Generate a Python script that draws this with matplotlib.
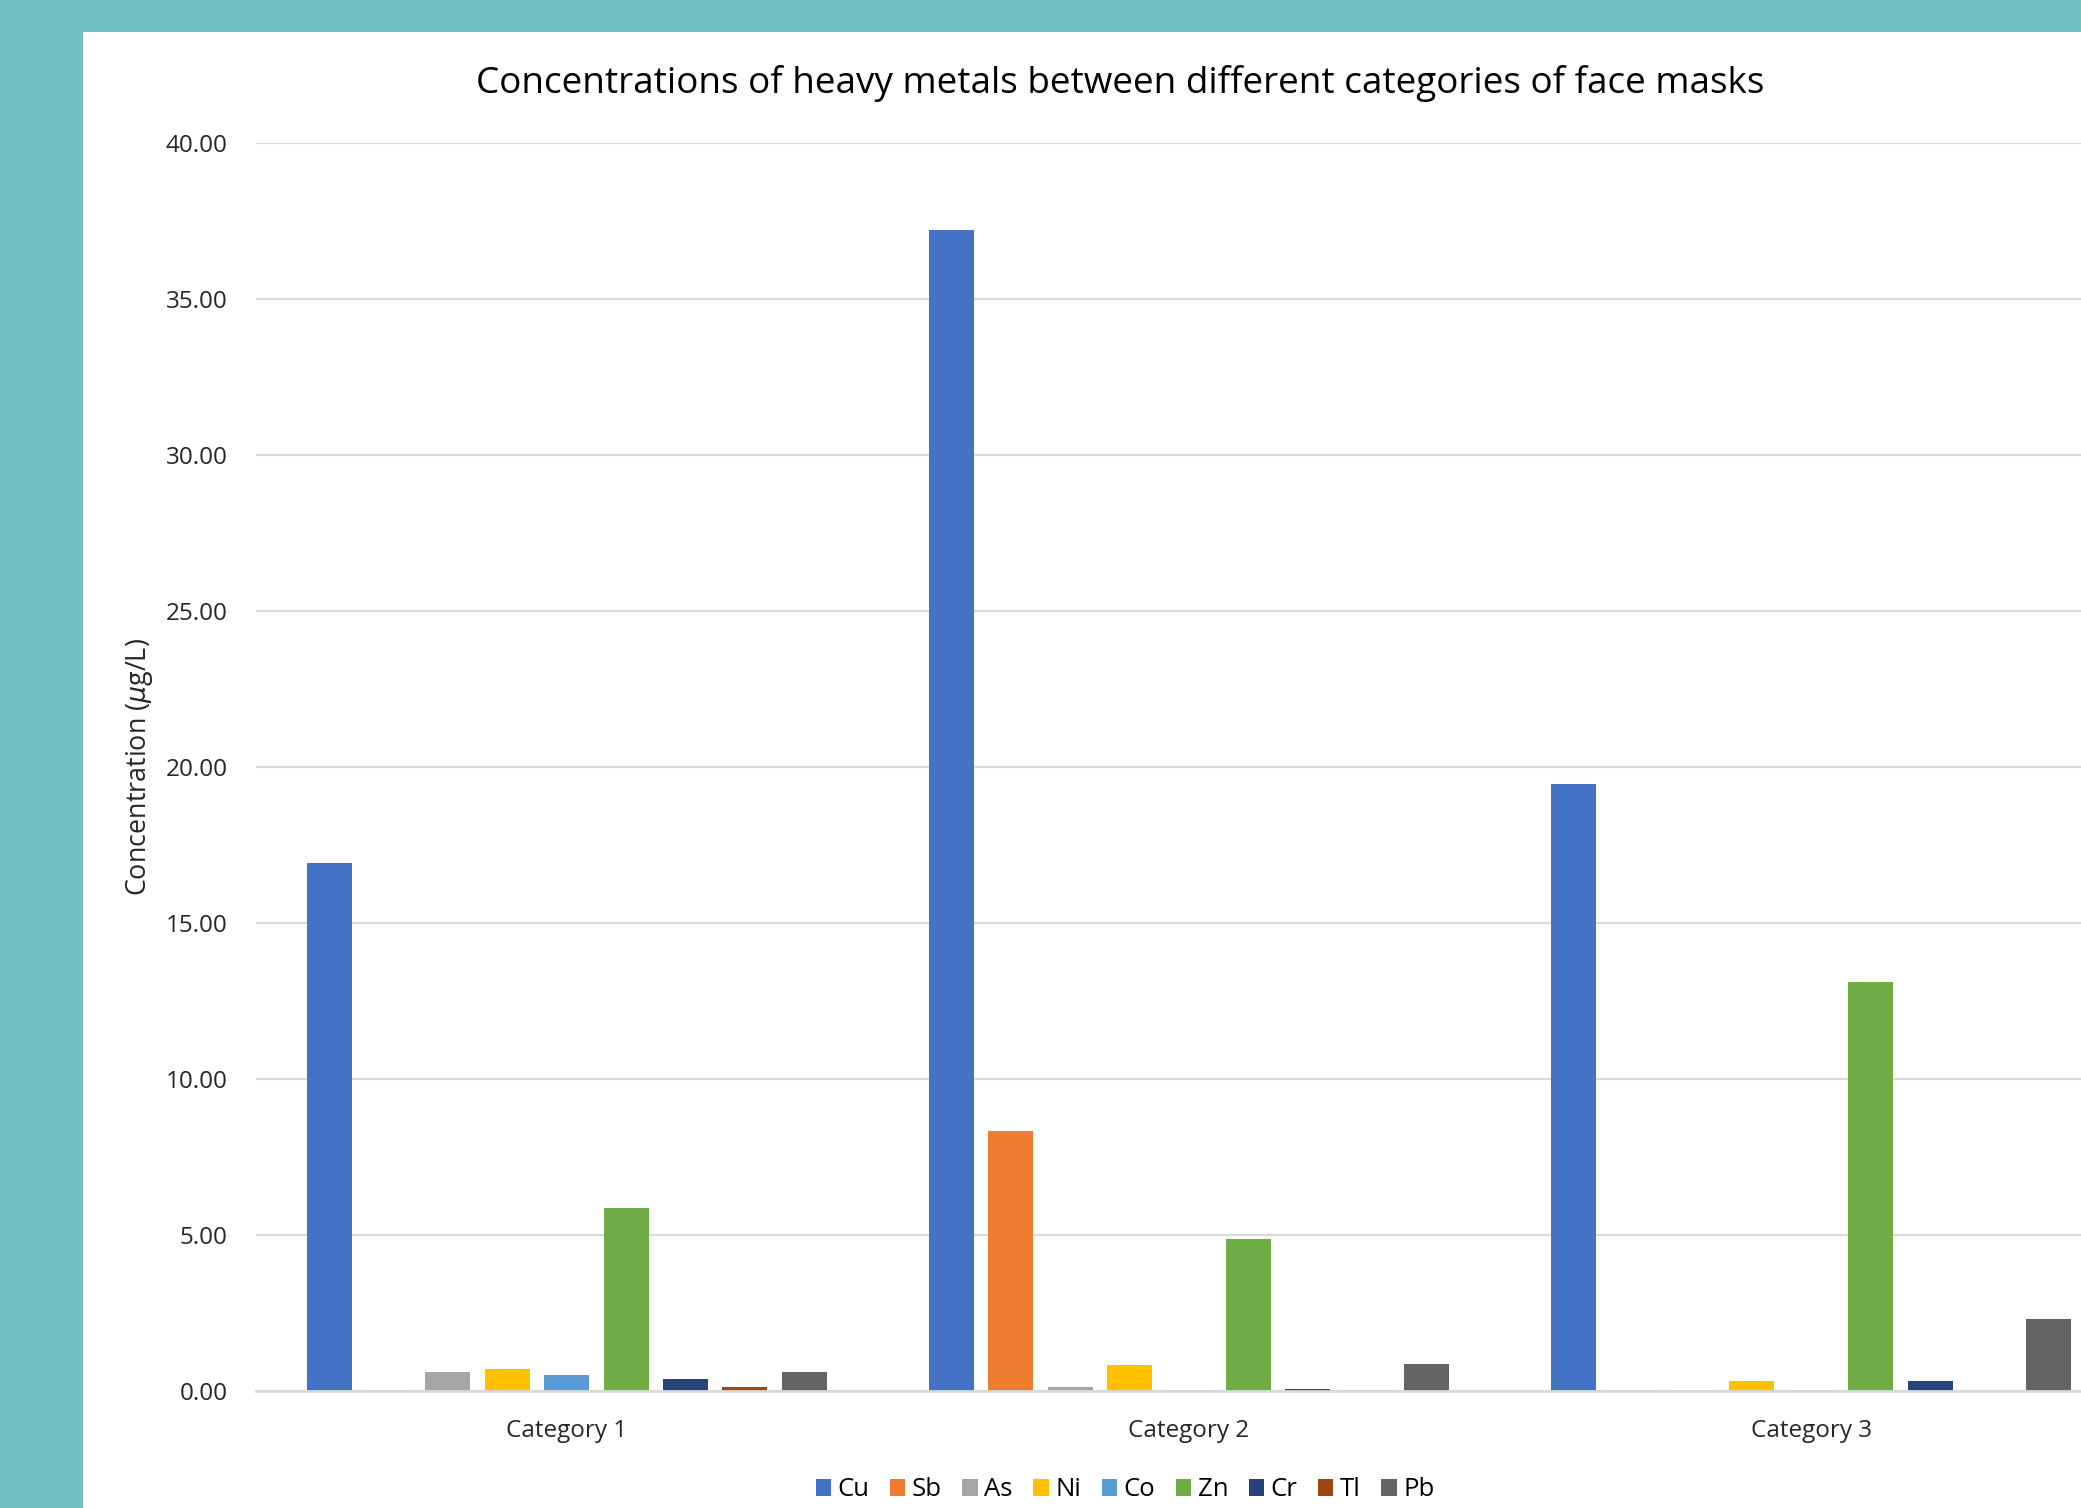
import numpy as np
import matplotlib
matplotlib.use('Agg')
import matplotlib.pyplot as plt
from matplotlib.patches import Rectangle

plt.rcParams['font.family'] = ['Open Sans', 'DejaVu Sans']

categories = ['Category 1', 'Category 2', 'Category 3']
metals = ['Cu', 'Sb', 'As', 'Ni', 'Co', 'Zn', 'Cr', 'Tl', 'Pb']
cu = [16.92, 37.20, 19.45]
sb = [0.03, 8.33, 0.02]
as_ = [0.62, 0.12, 0.02]
ni = [0.72, 0.82, 0.31]
co = [0.52, 0.03, 0.02]
zn = [5.87, 4.87, 13.12]
cr = [0.38, 0.08, 0.31]
tl = [0.12, 0.03, 0.0]
pb = [0.62, 0.86, 2.32]
values = [cu, sb, as_, ni, co, zn, cr, tl, pb]
colors = ['#4472C4', '#ED7D31', '#A5A5A5', '#FFC000', '#5B9BD5',
          '#70AD47', '#264478', '#9E480E', '#636363']

W, H = 2081, 1508
fig = plt.figure(figsize=(W / 100, H / 100), dpi=100, facecolor='#72C1C2')
fig.patches.append(Rectangle((83 / W, 0), 1, 1 - 32 / H, transform=fig.transFigure,
                             facecolor='white', edgecolor='none', zorder=-10))

# axes runs off the right edge, like the cropped original
left, right = 255.5, 2122.5
bottom, top = 1391, 143
ax = fig.add_axes([left / W, 1 - bottom / H, (right - left) / W, (bottom - top) / H])
ax.set_facecolor('none')

x = np.arange(len(categories))
step = 0.0954
width = 0.0724
for i, (m, v, c) in enumerate(zip(metals, values, colors)):
    ax.bar(x + (i - 4) * step, v, width, color=c, label=m, zorder=3)

ax.set_xlim(-0.5, 2.5)
ax.set_ylim(0, 40)
ax.set_yticks(np.arange(0, 41, 5))
ax.set_yticklabels(['%.2f' % t for t in np.arange(0, 41, 5)])
ax.set_xticks(x)
ax.set_xticklabels(categories)
ax.yaxis.grid(True, color='#D9D9D9', linewidth=1.5, zorder=0)
ax.tick_params(axis='both', length=0, labelsize=17.5, colors='#262626')
ax.tick_params(axis='y', pad=20)
ax.tick_params(axis='x', pad=20)
for s in ['top', 'right', 'left']:
    ax.spines[s].set_visible(False)
ax.spines['bottom'].set_color('#D9D9D9')
ax.spines['bottom'].set_linewidth(2)
ax.spines['bottom'].set_zorder(4)
ax.set_ylabel('Concentration ($\\mu$g/L)', fontsize=19.4, color='#262626', labelpad=8)

fig.text(1120 / W, 1 - 84 / H,
         'Concentrations of heavy metals between different categories of face masks',
         ha='center', va='center', fontsize=26.6, color='#000000')

fig.legend(loc='center', bbox_to_anchor=(1125 / W, 1 - 1490 / H), ncol=9,
           frameon=False, fontsize=18.5, handlelength=0.6, handleheight=0.6,
           handletextpad=0.25, columnspacing=0.8)

fig.savefig('out.png', dpi=100, facecolor=fig.get_facecolor())
